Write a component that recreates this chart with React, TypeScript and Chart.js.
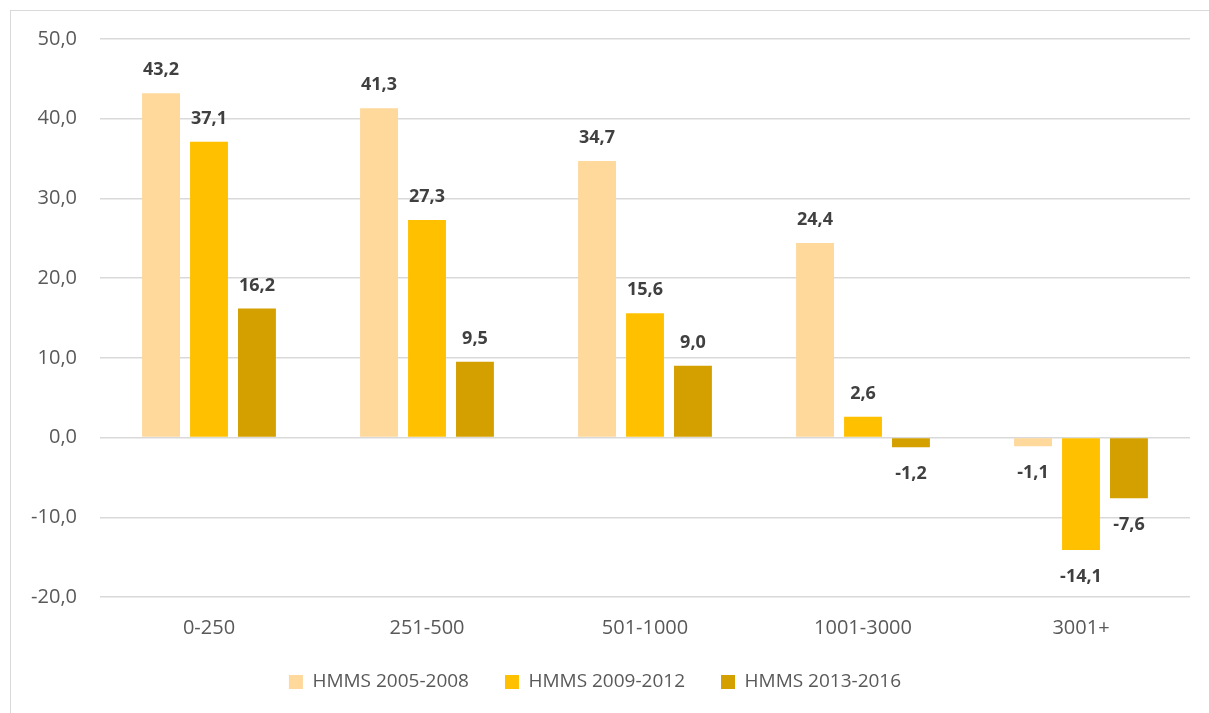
import React, { useEffect, useRef } from "react";
import { Chart, registerables } from "chart.js";

Chart.register(...registerables);

const categories = ["0-250", "251-500", "501-1000", "1001-3000", "3001+"];
const seriesNames = ["HMMS 2005-2008", "HMMS 2009-2012", "HMMS 2013-2016"];
const values2005 = [43.2, 41.3, 34.7, 24.4, -1.1];
const values2009 = [37.1, 27.3, 15.6, 2.6, -14.1];
const values2013 = [16.2, 9.5, 9.0, -1.2, -7.6];
const seriesColors = ["#FFD89B", "#FFC000", "#D4A000"];
const yMin = -20;
const yMax = 50;
const yStep = 10;

const fmt = (v: number) => v.toFixed(1).replace(".", ",");
const FONT = "'Open Sans', 'DejaVu Sans', sans-serif";

const dataLabelPlugin = {
  id: "dataLabels",
  afterDatasetsDraw(chart: any) {
    const ctx = chart.ctx;
    ctx.save();
    ctx.font = `bold 18px ${FONT}`;
    ctx.fillStyle = "#404040";
    ctx.textAlign = "center";
    ctx.textBaseline = "middle";
    chart.data.datasets.forEach((ds: any, di: number) => {
      const meta = chart.getDatasetMeta(di);
      meta.data.forEach((el: any, i: number) => {
        const v = ds.data[i] as number;
        const y = v >= 0 ? el.y - 23 : el.y + 27;
        ctx.fillText(fmt(v), el.x, y);
      });
    });
    ctx.restore();
  },
};

export default function App() {
  const canvasRef = useRef<HTMLCanvasElement | null>(null);

  useEffect(() => {
    if (!canvasRef.current) return;
    const seriesValues = [values2005, values2009, values2013];
    const chart = new Chart(canvasRef.current, {
      type: "bar",
      data: {
        labels: categories,
        datasets: seriesNames.map((name, i) => ({
          label: name,
          data: seriesValues[i],
          backgroundColor: seriesColors[i],
          borderWidth: 0,
          categoryPercentage: 0.66,
          barPercentage: 0.79,
        })),
      },
      options: {
        animation: false,
        responsive: true,
        maintainAspectRatio: false,
        layout: { padding: { top: 39, right: 19, bottom: 11.5, left: 0 } },
        plugins: {
          tooltip: { enabled: false },
          legend: {
            position: "bottom",
            labels: {
              boxWidth: 14,
              boxHeight: 14,
              padding: 36,
              color: "#595959",
              font: { family: FONT, size: 19 },
            },
          },
        },
        scales: {
          x: {
            grid: { display: false, drawTicks: false },
            border: { display: false },
            ticks: {
              color: "#595959",
              font: { family: FONT, size: 20 },
              padding: 19,
              maxRotation: 0,
            },
            afterFit: (scale: any) => {
              scale.height = 39.5;
            },
          },
          y: {
            min: yMin,
            max: yMax,
            grid: { color: "#D9D9D9", lineWidth: 1.5, drawTicks: false },
            border: { display: false },
            ticks: {
              stepSize: yStep,
              color: "#595959",
              font: { family: FONT, size: 20 },
              padding: 23,
              callback: (v: any) => fmt(Number(v)),
            },
            afterFit: (scale: any) => {
              scale.width = 100;
            },
          },
        },
      },
      plugins: [dataLabelPlugin],
    });
    return () => chart.destroy();
  }, []);

  return (
    <div
      style={{
        position: "fixed",
        left: 0,
        top: 0,
        width: 1209,
        height: 713,
        background: "#ffffff",
        overflow: "hidden",
      }}
    >
      <div
        style={{
          position: "absolute",
          left: 10,
          top: 10,
          width: 1199,
          height: 703,
          borderTop: "1.5px solid #D9D9D9",
          borderLeft: "1.5px solid #D9D9D9",
          boxSizing: "border-box",
          pointerEvents: "none",
        }}
      />
      <div style={{ position: "absolute", left: 0, top: 0, width: 1209, height: 713 }}>
        <canvas ref={canvasRef} />
      </div>
    </div>
  );
}
